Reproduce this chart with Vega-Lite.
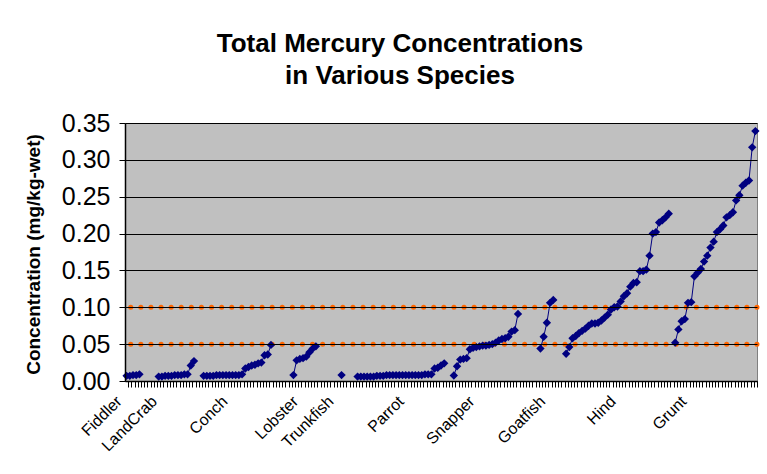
{
  "$schema": "https://vega.github.io/schema/vega-lite/v6.json",
  "width": 632,
  "height": 258,
  "autosize": {"type": "none"},
  "padding": {"left": 125, "top": 123, "right": 10, "bottom": 93},
  "background": "white",
  "title": {
    "text": ["Total Mercury Concentrations", "in Various Species"],
    "font": "Liberation Sans",
    "fontSize": 26,
    "fontWeight": "bold",
    "color": "black",
    "lineHeight": 32,
    "anchor": "middle",
    "frame": "group",
    "dx": -41,
    "offset": 22
  },
  "config": {
    "view": {"fill": "#C0C0C0", "stroke": "#808080", "strokeWidth": 1},
    "axis": {"labelFont": "Liberation Sans", "titleFont": "Liberation Sans", "labelColor": "black", "titleColor": "black", "domainColor": "black", "tickColor": "black", "tickOpacity": 1}
  },
  "data": {
    "values": [
      {"i": 0, "s": "Fiddler", "v": 0.007}, {"i": 1, "s": "Fiddler", "v": 0.007}, {"i": 2, "s": "Fiddler", "v": 0.008}, {"i": 3, "s": "Fiddler", "v": 0.008}, {"i": 4, "s": "Fiddler", "v": 0.009},
      {"i": 10, "s": "LandCrab", "v": 0.006}, {"i": 11, "s": "LandCrab", "v": 0.006}, {"i": 12, "s": "LandCrab", "v": 0.007}, {"i": 13, "s": "LandCrab", "v": 0.007}, {"i": 14, "s": "LandCrab", "v": 0.007}, {"i": 15, "s": "LandCrab", "v": 0.008}, {"i": 16, "s": "LandCrab", "v": 0.008}, {"i": 17, "s": "LandCrab", "v": 0.008}, {"i": 18, "s": "LandCrab", "v": 0.009}, {"i": 19, "s": "LandCrab", "v": 0.009}, {"i": 20, "s": "LandCrab", "v": 0.021}, {"i": 21, "s": "LandCrab", "v": 0.027},
      {"i": 24, "s": "Conch", "v": 0.007}, {"i": 25, "s": "Conch", "v": 0.007}, {"i": 26, "s": "Conch", "v": 0.007}, {"i": 27, "s": "Conch", "v": 0.007}, {"i": 28, "s": "Conch", "v": 0.008}, {"i": 29, "s": "Conch", "v": 0.008}, {"i": 30, "s": "Conch", "v": 0.008}, {"i": 31, "s": "Conch", "v": 0.008}, {"i": 32, "s": "Conch", "v": 0.008}, {"i": 33, "s": "Conch", "v": 0.008}, {"i": 34, "s": "Conch", "v": 0.008}, {"i": 35, "s": "Conch", "v": 0.008}, {"i": 36, "s": "Conch", "v": 0.009}, {"i": 37, "s": "Conch", "v": 0.017}, {"i": 38, "s": "Conch", "v": 0.019}, {"i": 39, "s": "Conch", "v": 0.021}, {"i": 40, "s": "Conch", "v": 0.022}, {"i": 41, "s": "Conch", "v": 0.024}, {"i": 42, "s": "Conch", "v": 0.025}, {"i": 43, "s": "Conch", "v": 0.035}, {"i": 44, "s": "Conch", "v": 0.036}, {"i": 45, "s": "Conch", "v": 0.049},
      {"i": 52, "s": "Lobster", "v": 0.008}, {"i": 53, "s": "Lobster", "v": 0.028}, {"i": 54, "s": "Lobster", "v": 0.03}, {"i": 55, "s": "Lobster", "v": 0.031}, {"i": 56, "s": "Lobster", "v": 0.033}, {"i": 57, "s": "Lobster", "v": 0.039}, {"i": 58, "s": "Lobster", "v": 0.044}, {"i": 59, "s": "Lobster", "v": 0.047},
      {"i": 67, "s": "Trunkfish", "v": 0.008},
      {"i": 72, "s": "Parrot", "v": 0.006}, {"i": 73, "s": "Parrot", "v": 0.006}, {"i": 74, "s": "Parrot", "v": 0.006}, {"i": 75, "s": "Parrot", "v": 0.006}, {"i": 76, "s": "Parrot", "v": 0.006}, {"i": 77, "s": "Parrot", "v": 0.006}, {"i": 78, "s": "Parrot", "v": 0.007}, {"i": 79, "s": "Parrot", "v": 0.007}, {"i": 80, "s": "Parrot", "v": 0.007}, {"i": 81, "s": "Parrot", "v": 0.008}, {"i": 82, "s": "Parrot", "v": 0.008}, {"i": 83, "s": "Parrot", "v": 0.008}, {"i": 84, "s": "Parrot", "v": 0.008}, {"i": 85, "s": "Parrot", "v": 0.008}, {"i": 86, "s": "Parrot", "v": 0.008}, {"i": 87, "s": "Parrot", "v": 0.008}, {"i": 88, "s": "Parrot", "v": 0.008}, {"i": 89, "s": "Parrot", "v": 0.008}, {"i": 90, "s": "Parrot", "v": 0.008}, {"i": 91, "s": "Parrot", "v": 0.008}, {"i": 92, "s": "Parrot", "v": 0.008}, {"i": 93, "s": "Parrot", "v": 0.009}, {"i": 94, "s": "Parrot", "v": 0.009}, {"i": 95, "s": "Parrot", "v": 0.009}, {"i": 96, "s": "Parrot", "v": 0.017}, {"i": 97, "s": "Parrot", "v": 0.018}, {"i": 98, "s": "Parrot", "v": 0.021}, {"i": 99, "s": "Parrot", "v": 0.024},
      {"i": 102, "s": "Snapper", "v": 0.0075}, {"i": 103, "s": "Snapper", "v": 0.02}, {"i": 104, "s": "Snapper", "v": 0.029}, {"i": 105, "s": "Snapper", "v": 0.03}, {"i": 106, "s": "Snapper", "v": 0.031}, {"i": 107, "s": "Snapper", "v": 0.043}, {"i": 108, "s": "Snapper", "v": 0.045}, {"i": 109, "s": "Snapper", "v": 0.046}, {"i": 110, "s": "Snapper", "v": 0.047}, {"i": 111, "s": "Snapper", "v": 0.048}, {"i": 112, "s": "Snapper", "v": 0.048}, {"i": 113, "s": "Snapper", "v": 0.049}, {"i": 114, "s": "Snapper", "v": 0.05}, {"i": 115, "s": "Snapper", "v": 0.052}, {"i": 116, "s": "Snapper", "v": 0.055}, {"i": 117, "s": "Snapper", "v": 0.057}, {"i": 118, "s": "Snapper", "v": 0.058}, {"i": 119, "s": "Snapper", "v": 0.06}, {"i": 120, "s": "Snapper", "v": 0.067}, {"i": 121, "s": "Snapper", "v": 0.069}, {"i": 122, "s": "Snapper", "v": 0.091},
      {"i": 129, "s": "Goatfish", "v": 0.044}, {"i": 130, "s": "Goatfish", "v": 0.06}, {"i": 131, "s": "Goatfish", "v": 0.079}, {"i": 132, "s": "Goatfish", "v": 0.106}, {"i": 133, "s": "Goatfish", "v": 0.11},
      {"i": 137, "s": "Hind", "v": 0.037}, {"i": 138, "s": "Hind", "v": 0.046}, {"i": 139, "s": "Hind", "v": 0.058}, {"i": 140, "s": "Hind", "v": 0.061}, {"i": 141, "s": "Hind", "v": 0.065}, {"i": 142, "s": "Hind", "v": 0.068}, {"i": 143, "s": "Hind", "v": 0.071}, {"i": 144, "s": "Hind", "v": 0.075}, {"i": 145, "s": "Hind", "v": 0.078}, {"i": 146, "s": "Hind", "v": 0.078}, {"i": 147, "s": "Hind", "v": 0.079}, {"i": 148, "s": "Hind", "v": 0.082}, {"i": 149, "s": "Hind", "v": 0.086}, {"i": 150, "s": "Hind", "v": 0.09}, {"i": 151, "s": "Hind", "v": 0.097}, {"i": 152, "s": "Hind", "v": 0.1}, {"i": 153, "s": "Hind", "v": 0.101}, {"i": 154, "s": "Hind", "v": 0.108}, {"i": 155, "s": "Hind", "v": 0.115}, {"i": 156, "s": "Hind", "v": 0.119}, {"i": 157, "s": "Hind", "v": 0.128}, {"i": 158, "s": "Hind", "v": 0.133}, {"i": 159, "s": "Hind", "v": 0.134}, {"i": 160, "s": "Hind", "v": 0.149}, {"i": 161, "s": "Hind", "v": 0.149}, {"i": 162, "s": "Hind", "v": 0.151}, {"i": 163, "s": "Hind", "v": 0.17}, {"i": 164, "s": "Hind", "v": 0.2}, {"i": 165, "s": "Hind", "v": 0.202}, {"i": 166, "s": "Hind", "v": 0.215}, {"i": 167, "s": "Hind", "v": 0.218}, {"i": 168, "s": "Hind", "v": 0.222}, {"i": 169, "s": "Hind", "v": 0.227},
      {"i": 171, "s": "Grunt", "v": 0.052}, {"i": 172, "s": "Grunt", "v": 0.07}, {"i": 173, "s": "Grunt", "v": 0.081}, {"i": 174, "s": "Grunt", "v": 0.084}, {"i": 175, "s": "Grunt", "v": 0.106}, {"i": 176, "s": "Grunt", "v": 0.107}, {"i": 177, "s": "Grunt", "v": 0.142}, {"i": 178, "s": "Grunt", "v": 0.147}, {"i": 179, "s": "Grunt", "v": 0.152}, {"i": 180, "s": "Grunt", "v": 0.162}, {"i": 181, "s": "Grunt", "v": 0.17}, {"i": 182, "s": "Grunt", "v": 0.181}, {"i": 183, "s": "Grunt", "v": 0.189}, {"i": 184, "s": "Grunt", "v": 0.202}, {"i": 185, "s": "Grunt", "v": 0.206}, {"i": 186, "s": "Grunt", "v": 0.211}, {"i": 187, "s": "Grunt", "v": 0.222}, {"i": 188, "s": "Grunt", "v": 0.225}, {"i": 189, "s": "Grunt", "v": 0.229}, {"i": 190, "s": "Grunt", "v": 0.245}, {"i": 191, "s": "Grunt", "v": 0.252}, {"i": 192, "s": "Grunt", "v": 0.265}, {"i": 193, "s": "Grunt", "v": 0.269}, {"i": 194, "s": "Grunt", "v": 0.272}, {"i": 195, "s": "Grunt", "v": 0.317}, {"i": 196, "s": "Grunt", "v": 0.339}
    ]
  },
  "encoding": {
    "x": {
      "field": "i",
      "type": "quantitative",
      "scale": {"domain": [-0.5, 196.5], "nice": false, "zero": false},
      "axis": {
        "title": null,
        "values": [0,1,2,3,4,5,6,7,8,9,10,11,12,13,14,15,16,17,18,19,20,21,22,23,24,25,26,27,28,29,30,31,32,33,34,35,36,37,38,39,40,41,42,43,44,45,46,47,48,49,50,51,52,53,54,55,56,57,58,59,60,61,62,63,64,65,66,67,68,69,70,71,72,73,74,75,76,77,78,79,80,81,82,83,84,85,86,87,88,89,90,91,92,93,94,95,96,97,98,99,100,101,102,103,104,105,106,107,108,109,110,111,112,113,114,115,116,117,118,119,120,121,122,123,124,125,126,127,128,129,130,131,132,133,134,135,136,137,138,139,140,141,142,143,144,145,146,147,148,149,150,151,152,153,154,155,156,157,158,159,160,161,162,163,164,165,166,167,168,169,170,171,172,173,174,175,176,177,178,179,180,181,182,183,184,185,186,187,188,189,190,191,192,193,194,195,196],
        "grid": false,
        "ticks": true,
        "tickSize": 6,
        "tickWidth": 1,
        "tickOffset": 1.6,
        "tickColor": "#000000",
        "zindex": 1,
        "domainWidth": 1.5,
        "labelAngle": -45,
        "labelAlign": "right",
        "labelBaseline": "alphabetic",
        "labelOffset": -6,
        "labelFontSize": 16,
        "labelOverlap": false,
        "labelFlush": false,
        "labelBound": false,
        "labelPadding": 15,
        "labelExpr": "datum.value == 0 ? 'Fiddler' : datum.value == 11 ? 'LandCrab' : datum.value == 33 ? 'Conch' : datum.value == 55 ? 'Lobster' : datum.value == 66 ? 'Trunkfish' : datum.value == 88 ? 'Parrot' : datum.value == 110 ? 'Snapper' : datum.value == 132 ? 'Goatfish' : datum.value == 154 ? 'Hind' : datum.value == 176 ? 'Grunt' : ''"
      }
    },
    "y": {
      "field": "v",
      "type": "quantitative",
      "scale": {"domain": [0, 0.35], "nice": false},
      "axis": {
        "title": "Concentration (mg/kg-wet)",
        "titleFontSize": 19,
        "titleFontWeight": "bold",
        "titleX": -92,
        "titleY": 131,
        "titleBaseline": "middle",
        "titleAngle": -90,
        "values": [0, 0.05, 0.1, 0.15, 0.2, 0.25, 0.3, 0.35],
        "format": ".2f",
        "labelFontSize": 25,
        "labelPadding": 9,
        "tickSize": 6,
        "ticks": true,
        "zindex": 1,
        "grid": true,
        "gridColor": "black",
        "gridWidth": 1,
        "gridOpacity": 1,
        "domainWidth": 1.5
      }
    }
  },
  "layer": [
    {
      "data": {"values": [{"ref": 0.05}, {"ref": 0.1}]},
      "mark": {"type": "rule", "color": "#FF6600", "strokeWidth": 5, "strokeDash": [0.1, 10], "strokeCap": "round"},
      "encoding": {"y": {"field": "ref", "type": "quantitative"}, "x": null}
    },
    {
      "mark": {"type": "line", "color": "#000080", "strokeWidth": 1},
      "encoding": {"detail": {"field": "s"}}
    },
    {
      "mark": {"type": "point", "shape": "diamond", "filled": true, "color": "#000080", "opacity": 1, "size": 70}
    }
  ]
}
